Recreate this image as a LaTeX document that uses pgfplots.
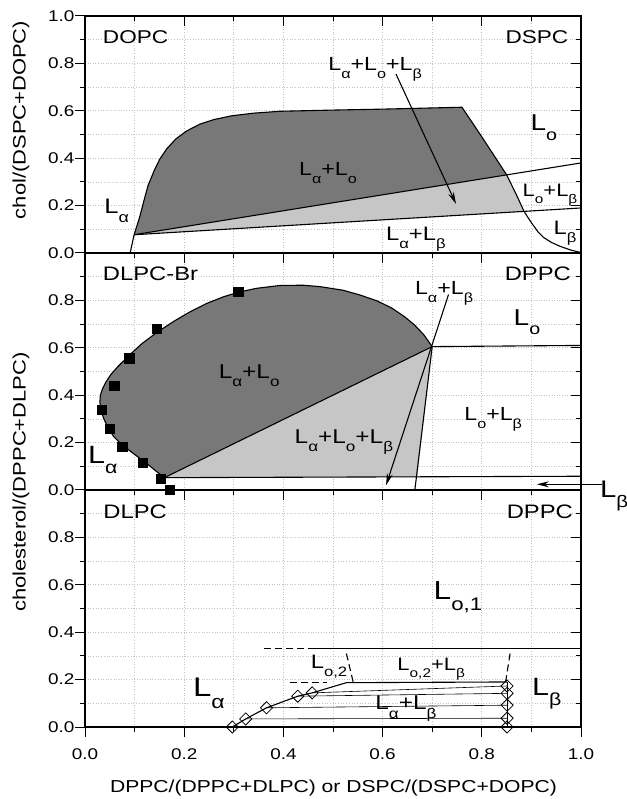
\documentclass[border=0pt]{standalone}
\usepackage{pgfplots}
\pgfplotsset{compat=1.18}
\usepackage{graphicx}
\usepackage{fontspec}
\setmainfont{Liberation Sans}[FakeStretch=1.22]
\usetikzlibrary{arrows.meta}
\definecolor{darkreg}{RGB}{120,120,120}
\definecolor{lightreg}{RGB}{198,198,198}
\definecolor{gridc}{RGB}{195,195,195}
\newcommand{\sub}[1]{\raisebox{-0.42em}{\scalebox{0.7}{#1}}}
\newcommand{\fs}[1]{\fontsize{#1bp}{#1bp}\selectfont}

\pgfplotsset{
  panel/.style={
    scale only axis, width=496bp, height=237bp,
    xmin=0, xmax=1, ymin=0, ymax=1,
    xtick={0,0.2,0.4,0.6,0.8,1}, minor xtick={0.1,0.3,0.5,0.7,0.9},
    ytick={0,0.2,0.4,0.6,0.8}, minor ytick={0.1,0.3,0.5,0.7,0.9},
    yticklabels={0.0,0.2,0.4,0.6,0.8},
    xtick pos=bottom, ytick pos=left, tick align=outside,
    major tick length=10bp, minor tick length=5bp,
    grid=both, grid style={gridc, dotted, line width=0.7bp},
    minor grid style={gridc, dotted, line width=0.7bp},
    axis line style={line width=1.3bp},
    every tick/.style={black, line width=1bp},
    tick label style={font=\fs{15.5}},
    xticklabel style={yshift=-8bp},
    yticklabel style={xshift=3bp},
    clip=false, anchor=south west,
  },
  frame/.style={
    scale only axis, width=496bp, height=237bp,
    xmin=0, xmax=1, ymin=0, ymax=1,
    xtick={0,0.2,0.4,0.6,0.8,1}, minor xtick={0.1,0.3,0.5,0.7,0.9},
    ytick={0,0.2,0.4,0.6,0.8,1}, minor ytick={0.1,0.3,0.5,0.7,0.9},
    xtick pos=top, ytick pos=right, tick align=inside,
    major tick length=10bp, minor tick length=5bp,
    xticklabels={}, yticklabels={},
    axis line style={line width=1.3bp},
    every tick/.style={black, line width=1bp},
    anchor=south west,
  },
  bnd/.style={black, line width=1.1bp, line join=round, mark=none},
  thin/.style={black, line width=0.6bp, mark=none},
  arr/.style={black, line width=1.1bp, mark=none, -{Stealth[length=12bp,width=6bp]}},
  dsh/.style={black, line width=1.1bp, mark=none, dash pattern=on 7bp off 4bp},
}
\tikzset{lab/.style={anchor=base, inner sep=0pt}}

\begin{document}
\begin{tikzpicture}
\path[use as bounding box] (-85bp,-72bp) rectangle (542bp,727bp);

% ---------------- bottom panel ----------------
\begin{axis}[panel, at={(0,0)}, xticklabels={0.0,0.2,0.4,0.6,0.8,1.0}]
\addplot[dsh] coordinates {(0.361,0.33)(0.455,0.33)};
\addplot[bnd] coordinates {(0.455,0.33)(1.0,0.33)};
\addplot[dsh] coordinates {(0.413,0.187)(0.487,0.187)};
\addplot[dsh] coordinates {(0.527,0.31)(0.541,0.187)};
\addplot[dsh] coordinates {(0.857,0.31)(0.848,0.19)};
\addplot[thin] coordinates {(0.324,0.034)(0.851,0.037)};
\addplot[thin] coordinates {(0.366,0.081)(0.851,0.092)};
\addplot[thin] coordinates {(0.429,0.13)(0.851,0.142)};
\addplot[thin] coordinates {(0.458,0.144)(0.851,0.173)};
\addplot[bnd] coordinates {(0.297,0.0)(0.324,0.034)(0.366,0.081)(0.429,0.13)(0.458,0.144)(0.527,0.187)(0.851,0.19)};
\addplot[bnd] coordinates {(0.851,0.0)(0.851,0.19)};
\addplot[only marks, mark=square, mark size=4.3bp, mark options={rotate=45, fill=white, draw=black, line width=0.8bp}]
  coordinates {(0.297,0.0)(0.324,0.034)(0.366,0.081)(0.429,0.13)(0.458,0.144)
               (0.851,0.0)(0.851,0.037)(0.851,0.092)(0.851,0.142)(0.851,0.173)};
\node[lab, font=\fs{19.5}] at (axis cs:0.101,0.881) {DLPC};
\node[lab, font=\fs{19.5}] at (axis cs:0.917,0.881) {DPPC};
\node[lab, font=\fs{26}] at (axis cs:0.752,0.536) {L\sub{o,1}};
\node[lab, font=\fs{19.5}] at (axis cs:0.492,0.247) {L\sub{o,2}};
\node[lab, font=\fs{18}] at (axis cs:0.698,0.24) {L\sub{o,2}+L\sub{β}};
\node[lab, font=\fs{27}] at (axis cs:0.25,0.128) {L\sub{α}};
\node[lab, font=\fs{20}] at (axis cs:0.647,0.072) {L\sub{α}+L\sub{β}};
\node[lab, font=\fs{25}] at (axis cs:0.931,0.135) {L\sub{β}};
\end{axis}
\begin{axis}[frame, at={(0,0)}]
\end{axis}

% ---------------- middle panel ----------------
\begin{axis}[panel, at={(0,237bp)}, xticklabels={}]
\addplot[fill=darkreg, draw=none] coordinates {(0.16,0.052)(0.14,0.085)(0.124,0.113)(0.10,0.15)(0.075,0.19)(0.058,0.225)(0.047,0.26)(0.038,0.30)(0.032,0.338)(0.030,0.37)(0.031,0.40)(0.035,0.425)(0.042,0.455)(0.052,0.487)(0.066,0.52)(0.091,0.572)(0.115,0.618)(0.145,0.665)(0.18,0.713)(0.212,0.752)(0.245,0.787)(0.279,0.815)(0.31,0.835)(0.346,0.851)(0.393,0.863)(0.44,0.864)(0.474,0.858)(0.52,0.843)(0.554,0.823)(0.59,0.797)(0.619,0.767)(0.645,0.73)(0.665,0.695)(0.683,0.655)(0.70,0.605)(0.16,0.052)};
\addplot[fill=lightreg, draw=none] coordinates {(0.16,0.052)(0.70,0.605)(0.670,0.0555)(0.16,0.052)};
\addplot[bnd] coordinates {(0.16,0.052)(0.14,0.085)(0.124,0.113)(0.10,0.15)(0.075,0.19)(0.058,0.225)(0.047,0.26)(0.038,0.30)(0.032,0.338)(0.030,0.37)(0.031,0.40)(0.035,0.425)(0.042,0.455)(0.052,0.487)(0.066,0.52)(0.091,0.572)(0.115,0.618)(0.145,0.665)(0.18,0.713)(0.212,0.752)(0.245,0.787)(0.279,0.815)(0.31,0.835)(0.346,0.851)(0.393,0.863)(0.44,0.864)(0.474,0.858)(0.52,0.843)(0.554,0.823)(0.59,0.797)(0.619,0.767)(0.645,0.73)(0.665,0.695)(0.683,0.655)(0.70,0.605)};
\addplot[bnd] coordinates {(0.16,0.052)(0.70,0.605)};
\addplot[bnd] coordinates {(0.70,0.605)(0.665,0.0)};
\addplot[bnd] coordinates {(0.70,0.605)(1.0,0.61)};
\addplot[bnd] coordinates {(0.16,0.052)(1.0,0.058)};
\addplot[arr] coordinates {(0.733,0.825)(0.607,0.02)};
\addplot[arr] coordinates {(1.042,0.024)(0.911,0.024)};
\addplot[only marks, mark=square*, mark size=4.6bp, mark options={fill=black, draw=black}]
  coordinates {(0.171,0.0)(0.153,0.049)(0.116,0.115)(0.075,0.183)(0.049,0.26)(0.034,0.338)(0.059,0.439)(0.089,0.556)(0.145,0.679)(0.309,0.837)};
\node[lab, font=\fs{19.5}] at (axis cs:0.132,0.883) {DLPC-Br};
\node[lab, font=\fs{19.5}] at (axis cs:0.913,0.883) {DPPC};
\node[lab, font=\fs{19}] at (axis cs:0.724,0.823) {L\sub{α}+L\sub{β}};
\node[lab, font=\fs{23}] at (axis cs:0.891,0.696) {L\sub{o}};
\node[lab, font=\fs{20}] at (axis cs:0.331,0.471) {L\sub{α}+L\sub{o}};
\node[lab, font=\fs{19}] at (axis cs:0.823,0.295) {L\sub{o}+L\sub{β}};
\node[lab, font=\fs{20}] at (axis cs:0.522,0.197) {L\sub{α}+L\sub{o}+L\sub{β}};
\node[lab, font=\fs{25}] at (axis cs:0.036,0.113) {L\sub{α}};
\node[lab, font=\fs{24}] at (axis cs:1.067,-0.03) {L\sub{β}};
\end{axis}
\begin{axis}[frame, at={(0,237bp)}]
\end{axis}

% ---------------- top panel ----------------
\begin{axis}[panel, at={(0,474bp)}, xticklabels={},
  ytick={0,0.2,0.4,0.6,0.8,1}, yticklabels={0.0,0.2,0.4,0.6,0.8,1.0}]
\addplot[fill=darkreg, draw=none] coordinates {(0.099,0.077)(0.11,0.15)(0.12,0.23)(0.127,0.284)(0.14,0.35)(0.151,0.397)(0.165,0.44)(0.183,0.481)(0.205,0.515)(0.232,0.544)(0.26,0.563)(0.296,0.579)(0.34,0.59)(0.393,0.598)(0.5,0.603)(0.6,0.607)(0.7,0.612)(0.76,0.615)(0.80,0.49)(0.85,0.330)(0.099,0.077)};
\addplot[fill=lightreg, draw=none] coordinates {(0.099,0.077)(0.85,0.330)(0.87,0.245)(0.885,0.176)(0.099,0.077)};
\addplot[bnd] coordinates {(0.091,0.0)(0.099,0.077)(0.11,0.15)(0.12,0.23)(0.127,0.284)(0.14,0.35)(0.151,0.397)(0.165,0.44)(0.183,0.481)(0.205,0.515)(0.232,0.544)(0.26,0.563)(0.296,0.579)(0.34,0.59)(0.393,0.598)(0.5,0.603)(0.6,0.607)(0.7,0.612)(0.76,0.615)(0.80,0.49)(0.85,0.330)(0.87,0.245)(0.885,0.176)(0.893,0.15)(0.901,0.125)(0.913,0.09)(0.925,0.065)(0.94,0.045)(0.958,0.028)(0.98,0.012)(1.0,0.002)};
\addplot[bnd] coordinates {(0.099,0.077)(1.0,0.38)};
\addplot[bnd] coordinates {(0.099,0.077)(1.0,0.19)};
\addplot[arr] coordinates {(0.627,0.755)(0.748,0.207)};
\node[lab, font=\fs{18.5}] at (axis cs:0.102,0.882) {DOPC};
\node[lab, font=\fs{18.5}] at (axis cs:0.911,0.882) {DSPC};
\node[lab, font=\fs{19}] at (axis cs:0.585,0.769) {L\sub{α}+L\sub{o}+L\sub{β}};
\node[lab, font=\fs{23}] at (axis cs:0.925,0.516) {L\sub{o}};
\node[lab, font=\fs{19}] at (axis cs:0.49,0.326) {L\sub{α}+L\sub{o}};
\node[lab, font=\fs{18}] at (axis cs:0.9375,0.24) {L\sub{o}+L\sub{β}};
\node[lab, font=\fs{19.5}] at (axis cs:0.968,0.08) {L\sub{β}};
\node[lab, font=\fs{19.5}] at (axis cs:0.667,0.052) {L\sub{α}+L\sub{β}};
\node[lab, font=\fs{21}] at (axis cs:0.064,0.165) {L\sub{α}};
\end{axis}
\begin{axis}[frame, at={(0,474bp)}]
\end{axis}

% axis titles
\node[rotate=90, anchor=center, font=\fs{18}] at (-64bp,607bp) {chol/(DSPC+DOPC)};
\node[rotate=90, anchor=center, font=\fs{18}] at (-64bp,245bp) {cholesterol/(DPPC+DLPC)};
\node[anchor=base, font=\fs{17.3}] at (248.5bp,-65bp) {DPPC/(DPPC+DLPC) or DSPC/(DSPC+DOPC)};
\end{tikzpicture}
\end{document}
